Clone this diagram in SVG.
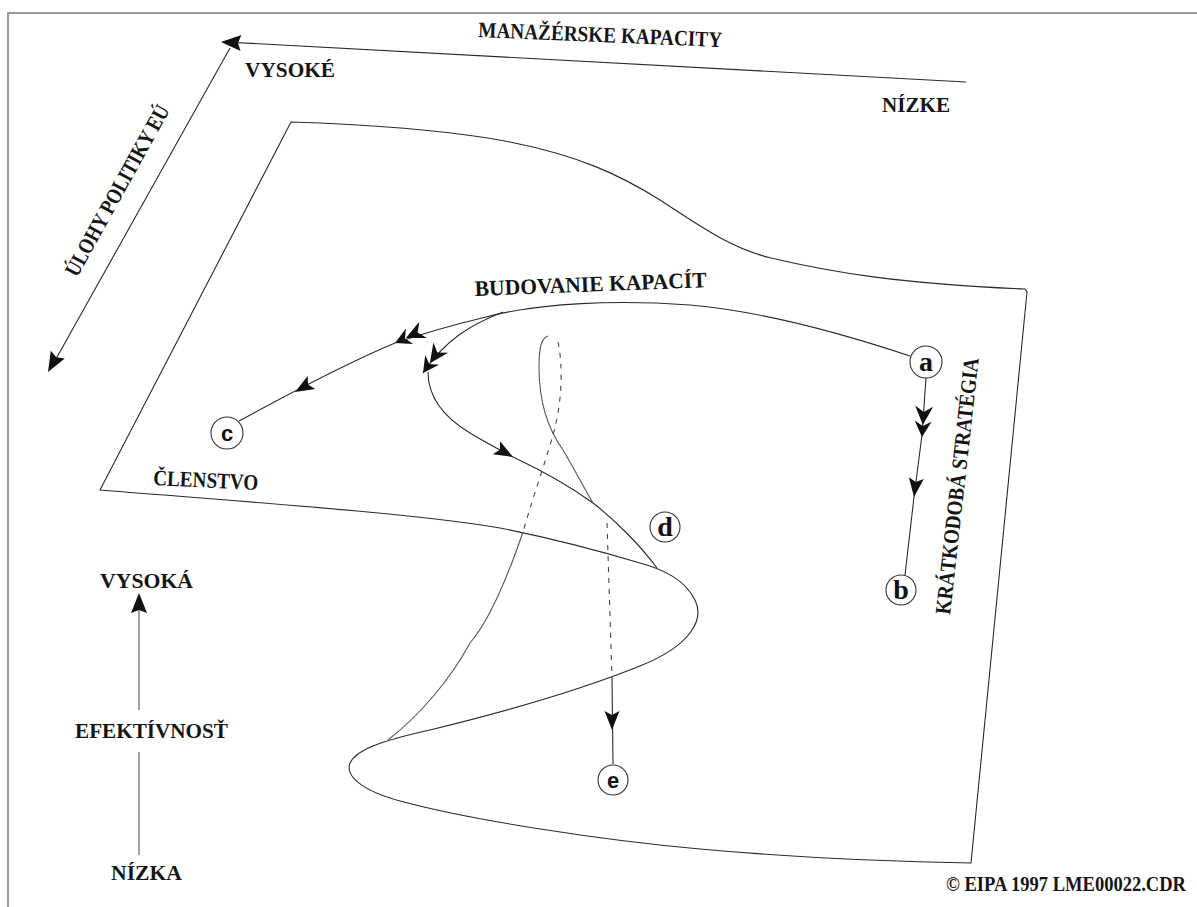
<svg xmlns="http://www.w3.org/2000/svg" width="1197" height="907" viewBox="0 0 1197 907">
<style>
.t{font-family:"Liberation Serif","DejaVu Serif",serif;font-weight:bold;font-size:22px;fill:#151515}
.ln{fill:none;stroke:#2a2a2a;stroke-width:1.1}
.gl{fill:none;stroke:#555;stroke-width:1.1}
.ds{fill:none;stroke:#444;stroke-width:1.1;stroke-dasharray:5 6}
.ah{fill:#111}
.nd circle{fill:#fff;stroke:#333;stroke-width:1.1}
.ls{font-family:"Liberation Serif",serif;font-weight:bold;font-size:28px;fill:#111;text-anchor:middle}
.lz{font-family:"Liberation Sans",Arial,sans-serif;font-weight:bold;font-size:22px;fill:#111;text-anchor:middle}
</style>
<defs>
<path id="a1" d="M0,0 L-19,-7.5 L-15,0 L-19,7.5 Z"/>
<path id="a3" d="M0,0 L-20,-8 L-17,0 L-20,8 Z"/>
<path id="a2" d="M0,0 L-16,-8.5 L-11,0 L-16,8.5 Z M-12,0 L-31,-9 L-25,0 L-31,9 Z"/>
</defs>
<rect width="1197" height="907" fill="#fff"/>
<path d="M8,907 L8,13 L1197,13" fill="none" stroke="#9a9a9a" stroke-width="2"/>

<g id="surface">
<path class="ln" d="M291,122 C360,124 450,130 510,142 C580,156 620,175 660,200 C700,226 730,248 771,258 C830,272 900,284 1025,289 L1027,292 L971,863 C900,862 800,858 700,849 C600,840 470,820 400,801 C360,790 345,775 350,763 C356,750 380,741 430,730 C500,713 580,690 640,666 C690,646 705,620 695,600 C685,580 665,570 640,563 C600,551 560,540 500,528 C420,514 250,502 100,490 Z"/>
</g>

<g id="connectors">
<path class="ln" d="M966,82 L225,42"/>
<use href="#a3" class="ah" transform="translate(221,42) rotate(183)"/>
<path class="ln" d="M230,48 L52,366"/>
<use href="#a3" class="ah" transform="translate(48,372) rotate(119.3)"/>
<path class="gl" d="M139,710 L139,600"/>
<use href="#a3" class="ah" transform="translate(139,593) rotate(-90)"/>
<path class="gl" d="M139,752 L139,855"/>

<path class="ln" d="M910,356 C850,336 770,312 690,305 C620,300 540,302 482,318"/>
<path class="ln" d="M482,318 Q440,328 395,343 Q340,366 239,421"/>
<use href="#a2" class="ah" transform="translate(395,343) rotate(155)"/>
<use href="#a1" class="ah" transform="translate(295,392) rotate(150)"/>
<path class="ln" d="M503,312 C470,325 445,340 423,373"/>
<use href="#a2" class="ah" transform="translate(423,373) rotate(125)"/>
<path class="ln" d="M428,372 C428,395 440,415 470,433 C490,445 500,450 513,457 C545,472 575,490 593,503 C615,520 640,545 657,568"/>
<use href="#a1" class="ah" transform="translate(513,457) rotate(29)"/>

<path class="gl" d="M548,336 C542,338 539,345 539,367 C539,395 545,425 563,450 C575,470 585,490 593,503"/>
<path class="ds" d="M558,342 C563,365 562,400 555,427 C548,455 535,490 523,532"/>
<path class="gl" d="M523,532 C510,570 490,620 470,643 C450,680 420,715 388,740"/>
<path class="ds" d="M607,523 L612,678"/>
<path class="ln" d="M612,678 L613,764"/>
<use href="#a1" class="ah" transform="translate(612,730) rotate(90)"/>

<path class="ln" d="M926,378 L922,435 L914,497 L905,575"/>
<use href="#a2" class="ah" transform="translate(922,437) rotate(94)"/>
<use href="#a1" class="ah" transform="translate(914,497) rotate(97)"/>
</g>

<g id="node-a" class="nd"><circle cx="926" cy="362" r="16"/><text class="ls" x="926" y="371">a</text></g>
<g id="node-b" class="nd"><circle cx="901" cy="590" r="15"/><text class="ls" x="901" y="599">b</text></g>
<g id="node-c" class="nd"><circle cx="227" cy="433" r="16"/><text class="lz" x="227" y="441">c</text></g>
<g id="node-d" class="nd"><circle cx="665" cy="527" r="15"/><text class="ls" x="665" y="536">d</text></g>
<g id="node-e" class="nd"><circle cx="613" cy="780" r="15"/><text class="lz" x="613" y="788">e</text></g>

<g id="labels">
<text class="t" x="478" y="37" textLength="244" lengthAdjust="spacingAndGlyphs" transform="rotate(2.35 478 37)">MANAŽÉRSKE KAPACITY</text>
<text class="t" x="245" y="77" textLength="90" lengthAdjust="spacingAndGlyphs">VYSOKÉ</text>
<text class="t" x="882" y="112" textLength="68" lengthAdjust="spacingAndGlyphs">NÍZKE</text>
<text class="t" x="77" y="278" textLength="192" lengthAdjust="spacingAndGlyphs" transform="rotate(-61 77 278)">ÚLOHY POLITIKY EÚ</text>
<text class="t" x="475" y="296" textLength="232" lengthAdjust="spacingAndGlyphs" transform="rotate(-2.2 475 296)">BUDOVANIE KAPACÍT</text>
<text class="t" x="153" y="485" textLength="105" lengthAdjust="spacingAndGlyphs" transform="rotate(2.7 153 485)">ČLENSTVO</text>
<text class="t" x="950" y="615" textLength="258" lengthAdjust="spacingAndGlyphs" transform="rotate(-83.6 950 615)">KRÁTKODOBÁ STRATÉGIA</text>
<text class="t" x="100" y="588" textLength="93" lengthAdjust="spacingAndGlyphs">VYSOKÁ</text>
<text class="t" x="75" y="738" textLength="153" lengthAdjust="spacingAndGlyphs">EFEKTÍVNOSŤ</text>
<text class="t" x="111" y="880" textLength="71" lengthAdjust="spacingAndGlyphs">NÍZKA</text>
<text class="t" x="946" y="891" font-size="15" textLength="240" lengthAdjust="spacingAndGlyphs">© EIPA 1997 LME00022.CDR</text>
</g>
</svg>
